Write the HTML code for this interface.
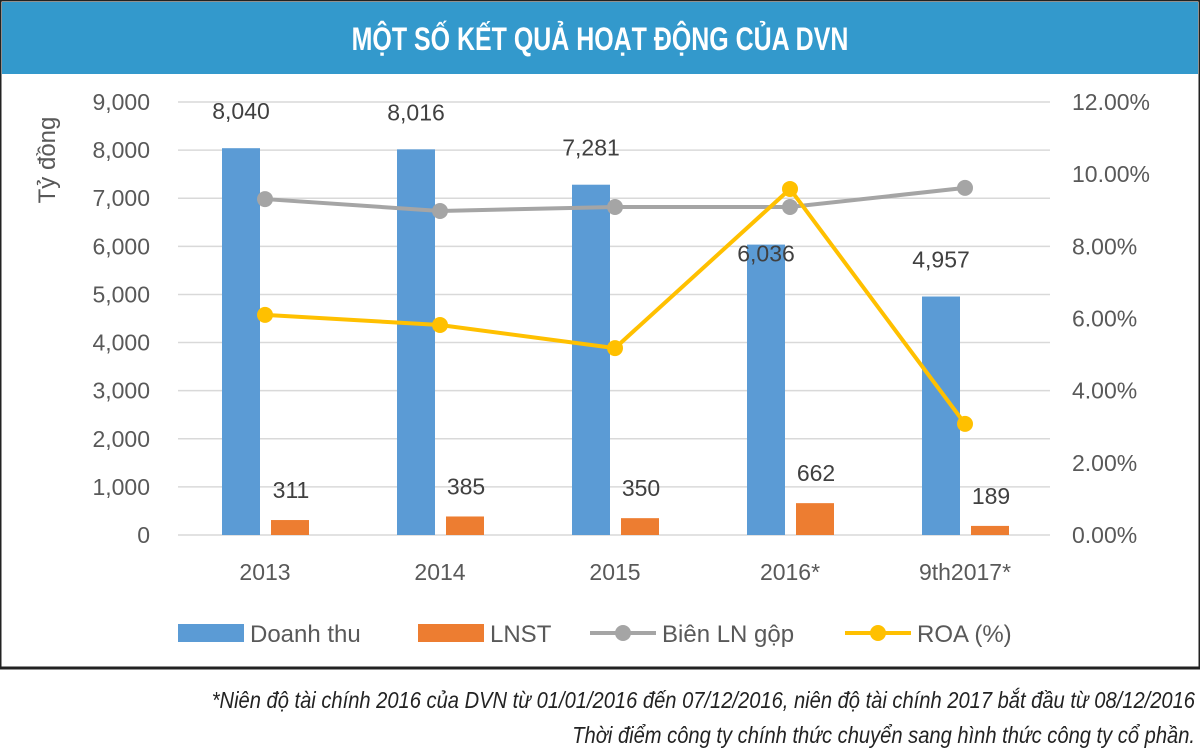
<!DOCTYPE html>
<html><head><meta charset="utf-8"><style>
body{margin:0;background:#fff;font-family:"Liberation Sans",sans-serif}
#wrap{position:relative;width:1200px;height:756px;overflow:hidden}
</style></head><body>
<div id="wrap">
<svg id="svg" width="1200" height="756" xmlns="http://www.w3.org/2000/svg">
<rect x="0" y="0" width="1200" height="668" fill="#fff" stroke="#222" stroke-width="3"/>
<rect x="2" y="2" width="1196" height="72" fill="#3399cc"/>
<text x="600" y="50" text-anchor="middle" fill="#fff" font-size="32" font-weight="bold" transform="translate(600 0) scale(0.78 1) translate(-600 0)">MỘT SỐ KẾT QUẢ HOẠT ĐỘNG CỦA DVN</text>
<text x="0" y="0" transform="translate(55 160) rotate(-90)" text-anchor="middle" fill="#595959" font-size="24">Tỷ đồng</text>
<g id="g"></g>
<text x="1195" y="708" text-anchor="end" fill="#222" font-size="23" font-style="italic" transform="translate(1195 0) scale(0.875 1) translate(-1195 0)">*Niên độ tài chính 2016 của DVN từ 01/01/2016 đến 07/12/2016, niên độ tài chính 2017 bắt đầu từ 08/12/2016</text>
<text x="1195" y="743" text-anchor="end" fill="#222" font-size="23" font-style="italic" transform="translate(1195 0) scale(0.875 1) translate(-1195 0)">Thời điểm công ty chính thức chuyển sang hình thức công ty cổ phần.</text>
</svg>
</div>
<script>
const categories=["2013","2014","2015","2016*","9th2017*"];
const revenue=[8040,8016,7281,6036,4957];
const profit=[311,385,350,662,189];
const grossMargin=[9.31,8.98,9.09,9.09,9.62];
const roa=[6.10,5.82,5.18,9.59,3.08];
const leftTicks=[0,1000,2000,3000,4000,5000,6000,7000,8000,9000];
const rightTicks=[0,2,4,6,8,10,12];
const NS="http://www.w3.org/2000/svg";
const g=document.getElementById('g');
const y0=535,yTop=102,xL=178,xR=1050;
const yL=v=>y0-(v/9000)*(y0-yTop);
const yR=v=>y0-(v/12)*(y0-yTop);
const xC=i=>265+i*175;
function mk(t,a){const e=document.createElementNS(NS,t);for(const k in a)e.setAttribute(k,a[k]);g.appendChild(e);return e;}
const fmt=v=>v.toLocaleString('en-US');
leftTicks.forEach(v=>{
 const l=mk('line',{x1:xL,x2:xR,y1:yL(v),y2:yL(v),stroke:'#d9d9d9','stroke-width':1.5});
 
 
 const t=mk('text',{x:150,y:yL(v)+8,'text-anchor':'end','font-size':23,fill:'#595959'});t.textContent=fmt(v);
 
 
});
rightTicks.forEach(v=>{
 const t=mk('text',{x:1072,y:yR(v)+8,'font-size':23,fill:'#595959'});t.textContent=v.toFixed(2)+'%';
 
 
});
categories.forEach((c,i)=>{
 const x=xC(i);
 const b=mk('rect',{x:x-43,y:yL(revenue[i]),width:38,height:y0-yL(revenue[i]),fill:'#5b9bd5'});
 
 
 const o=mk('rect',{x:x+6,y:yL(profit[i]),width:38,height:y0-yL(profit[i]),fill:'#ed7d31'});
 
 
 const dy=i===3?17:-29;
 const t1=mk('text',{x:x-24,y:yL(revenue[i])+dy,'text-anchor':'middle','font-size':23,fill:'#404040'});t1.textContent=fmt(revenue[i]);
 
 
 const t2=mk('text',{x:x+26,y:yL(profit[i])-22,'text-anchor':'middle','font-size':23,fill:'#404040'});t2.textContent=fmt(profit[i]);
 
 
 const t3=mk('text',{x:x,y:580,'text-anchor':'middle','font-size':23,fill:'#595959'});t3.textContent=c;
 
 
});
function line(vals,col,name){
 const p=mk('polyline',{points:vals.map((v,i)=>xC(i)+','+yR(v)).join(' '),fill:'none',stroke:col,'stroke-width':4});
 
 
 vals.forEach((v,i)=>{const c=mk('circle',{cx:xC(i),cy:yR(v),r:8,fill:col});
 
 });
}
line(grossMargin,'#a5a5a5','gross-margin');
line(roa,'#ffc000','roa');
const ly=633;
[['rect','#5b9bd5','Doanh thu',178],['rect','#ed7d31','LNST',418],['line','#a5a5a5','Biên LN gộp',590],['line','#ffc000','ROA (%)',845]].forEach(([k,col,lab,x])=>{
 if(k==='rect'){const r=mk('rect',{x:x,y:ly-9,width:66,height:18,fill:col});
  
  }
 else{const l=mk('line',{x1:x,x2:x+66,y1:ly,y2:ly,stroke:col,'stroke-width':4});
  
  
  const c=mk('circle',{cx:x+33,cy:ly,r:8,fill:col});
  
  }
 const t=mk('text',{x:x+72,y:ly+9,'font-size':24,fill:'#595959'});t.textContent=lab;
 
 
});
</script>
</body></html>
